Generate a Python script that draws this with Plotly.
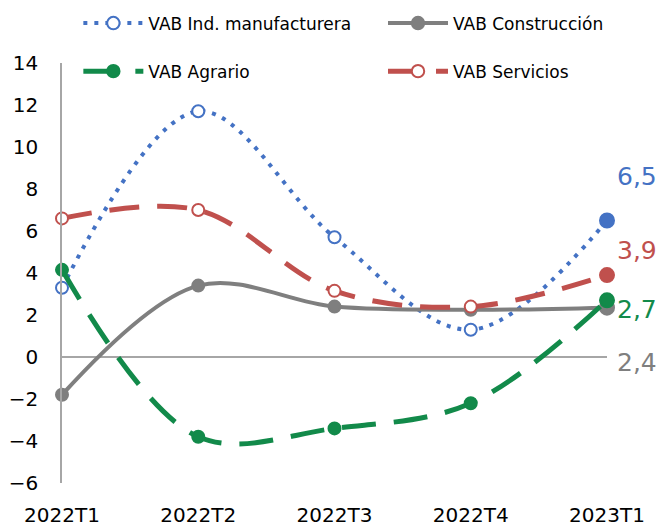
import plotly.graph_objects as go

categories = ["2022T1", "2022T2", "2022T3", "2022T4", "2023T1"]
manufacturera = [3.3, 11.7, 5.7, 1.3, 6.5]
construccion = [-1.8, 3.4, 2.4, 2.25, 2.35]
agrario = [4.15, -3.8, -3.4, -2.2, 2.7]
servicios = [6.6, 7.0, 3.15, 2.4, 3.9]
end_labels = ["6,5", "2,4", "2,7", "3,9"]

BLUE = "#4472C4"
GRAY = "#7F7F7F"
GREEN = "#128A4A"
RED = "#C0504D"
AXIS = "#A6A6A6"
FONT = "DejaVu Sans, sans-serif"

x = list(range(len(categories)))
n = len(categories)

fig = go.Figure()

def add(name, vals, color, dash, width, open_markers, legend, group):
    fill = (["white"] * (n - 1) + [color]) if open_markers else color
    sizes = [12] * (n - 1) + [14]
    fig.add_trace(go.Scatter(
        x=x, y=vals, name=name, mode="lines+markers",
        line=dict(color=color, width=width, dash=dash, shape="spline", smoothing=1),
        marker=dict(symbol="circle", color=fill, size=sizes, opacity=1,
                    line=dict(color=color, width=2)),
        cliponaxis=False, legend=legend, legendgroup=group,
    ))

add("VAB Ind. manufacturera", manufacturera, BLUE, "4px,7px", 4, True, "legend", "g1")
add("VAB Construcción", construccion, GRAY, "solid", 4, False, "legend2", "g2")
add("VAB Agrario", agrario, GREEN, "34px,18px", 5, False, "legend", "g3")
add("VAB Servicios", servicios, RED, "30px,18px", 5, True, "legend2", "g4")

series_last = [manufacturera[-1], construccion[-1], agrario[-1], servicios[-1]]
colors = [BLUE, GRAY, GREEN, RED]
yshifts = [44, -55, -9, 25]
for txt, yv, c, ys in zip(end_labels, series_last, colors, yshifts):
    fig.add_annotation(x=x[-1], y=yv, text=txt, showarrow=False,
                       xanchor="left", yanchor="middle", xshift=8, yshift=ys,
                       font=dict(family=FONT, size=25, color=c))

legend_common = dict(orientation="v", yanchor="middle", xanchor="left",
                     font=dict(family=FONT, size=17, color="#000000"),
                     bgcolor="rgba(0,0,0,0)", itemwidth=60, tracegroupgap=23,
                     y=1.0369)

fig.update_layout(
    width=659, height=529,
    margin=dict(l=62, r=52, t=63, b=46, autoexpand=False),
    paper_bgcolor="white", plot_bgcolor="white",
    font=dict(family=FONT, size=20, color="#000000"),
    showlegend=True,
    legend=dict(x=0.03, **legend_common),
    legend2=dict(x=0.589, **legend_common),
    xaxis=dict(range=[0, n - 1], tickmode="array", tickvals=x, ticktext=categories,
               showgrid=False, zeroline=False, showline=False, ticks="",
               ticklabelstandoff=18, tickfont=dict(family=FONT, size=20)),
    yaxis=dict(range=[-6, 14], dtick=2, showgrid=False, zeroline=True,
               zerolinecolor=AXIS, zerolinewidth=1.5, showline=True,
               linecolor=AXIS, linewidth=1.5, ticks="", ticklabelstandoff=18,
               tickfont=dict(family=FONT, size=20)),
)

fig.write_html("out.html", config={"displayModeBar": False},
               post_script="document.body.style.margin='0';")
